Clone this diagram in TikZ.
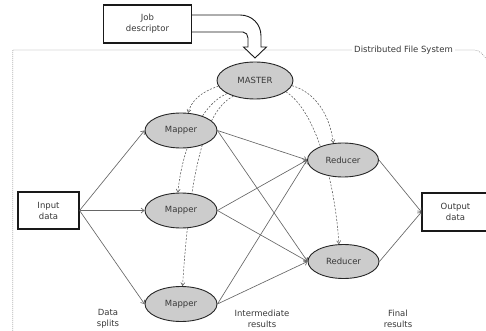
\documentclass[tikz,border=0pt]{standalone}
\usepackage{fontspec}
\setmainfont{DejaVu Sans}
\usetikzlibrary{shapes.geometric,arrows.meta}
\pgfdeclarelayer{background}
\pgfsetlayers{background,main}
\begin{document}
\begin{tikzpicture}[x=1pt,y=-1pt,
  every node/.style={font=\fontsize{8.5}{11}\selectfont, text=black!78},
  proc/.style={ellipse, draw=black!85, line width=0.9pt, fill=black!20, minimum width=72pt, minimum height=35pt, inner sep=0pt},
  iobox/.style={rectangle, draw=black!90, line width=1.1pt, fill=white, align=center, inner sep=0pt},
  flow/.style={draw=black!60, line width=0.65pt, -{Straight Barb[length=3pt,width=5pt]}},
  ctrl/.style={draw=black!65, line width=0.55pt, dash pattern=on 2pt off 1.5pt, -{Straight Barb[length=3pt,width=4pt]}},
  frame/.style={draw=black!45, line width=0.7pt, dash pattern=on 0.7pt off 1.3pt},
  lbl/.style={align=center}]
\useasboundingbox (0,0) rectangle (486,331);

% nodes
\node[iobox, minimum width=88pt, minimum height=38pt] (job) at (147.5,24) {Job\\descriptor};
\node[proc, minimum width=76pt, minimum height=37pt] (master) at (255,80.5) {MASTER};
\node[proc] (m1) at (181,130.5) {Mapper};
\node[proc] (m2) at (181,210.5) {Mapper};
\node[proc] (m3) at (181,304) {Mapper};
\node[proc, minimum width=71pt, minimum height=34pt] (r1) at (343,160) {Reducer};
\node[proc, minimum width=71pt, minimum height=34pt] (r2) at (343.5,261.5) {Reducer};
\node[iobox, minimum width=61pt, minimum height=37pt] (in) at (48.5,210.5) {Input\\data};
\node[iobox, minimum width=67pt, minimum height=38pt] (out) at (455.5,212) {Output\\data};

\node[lbl] (ds) at (108,319) {Data\\splits};
\node[lbl] (ir) at (262,319) {Intermediate\\results};
\node[lbl] (fr) at (398,319) {Final\\results};

% hollow arrow from job descriptor to master
\draw[line width=0.9pt, draw=black!90, fill=white, line join=miter]
  (job.east |- 0,15) -- (240,15) .. controls (252,15) and (261,24) .. (261,36)
  -- (261,47) -- (266.5,47) -- (255,58) -- (243.5,47) -- (248,47) -- (248,38)
  .. controls (248,35) and (246,32) .. (243,32) -- (job.east |- 0,32);

\begin{pgfonlayer}{background}
  % distributed file system frame
  \draw[frame] (12.7,331) -- (12.7,50) -- (474,50) .. controls (480,50) and (484,55) .. (488,62);
  \node[fill=white, inner sep=2pt] (dfs) at (403.5,50) {Distributed File System};
  % control arcs from master
  \draw[ctrl] (master.189) .. controls (200,92) and (191,102) .. (m1.68);
  \draw[ctrl] (master.205) .. controls (200,105) and (182,150) .. (m2.100);
  \draw[ctrl] (master.216) .. controls (205,110) and (190,170) .. (m3.85);
  \draw[ctrl] (master.352) .. controls (315,92) and (330,115) .. (r1.120);
  \draw[ctrl] (master.340) .. controls (315,110) and (335,180) .. (r2.105);
\end{pgfonlayer}

% data flow
\draw[flow] (in.east) -- (m1.west);
\draw[flow] (in.east) -- (m2.west);
\draw[flow] (in.east) -- (m3.west);
\draw[flow] (m1.east) -- (r1.west);
\draw[flow] (m1.east) -- (r2.west);
\draw[flow] (m2.east) -- (r1.west);
\draw[flow] (m2.east) -- (r2.west);
\draw[flow] (m3.east) -- (r1.west);
\draw[flow] (m3.east) -- (r2.west);
\draw[flow] (r1.east) -- (out.west);
\draw[flow] (r2.east) -- (out.west);
\end{tikzpicture}
\end{document}
